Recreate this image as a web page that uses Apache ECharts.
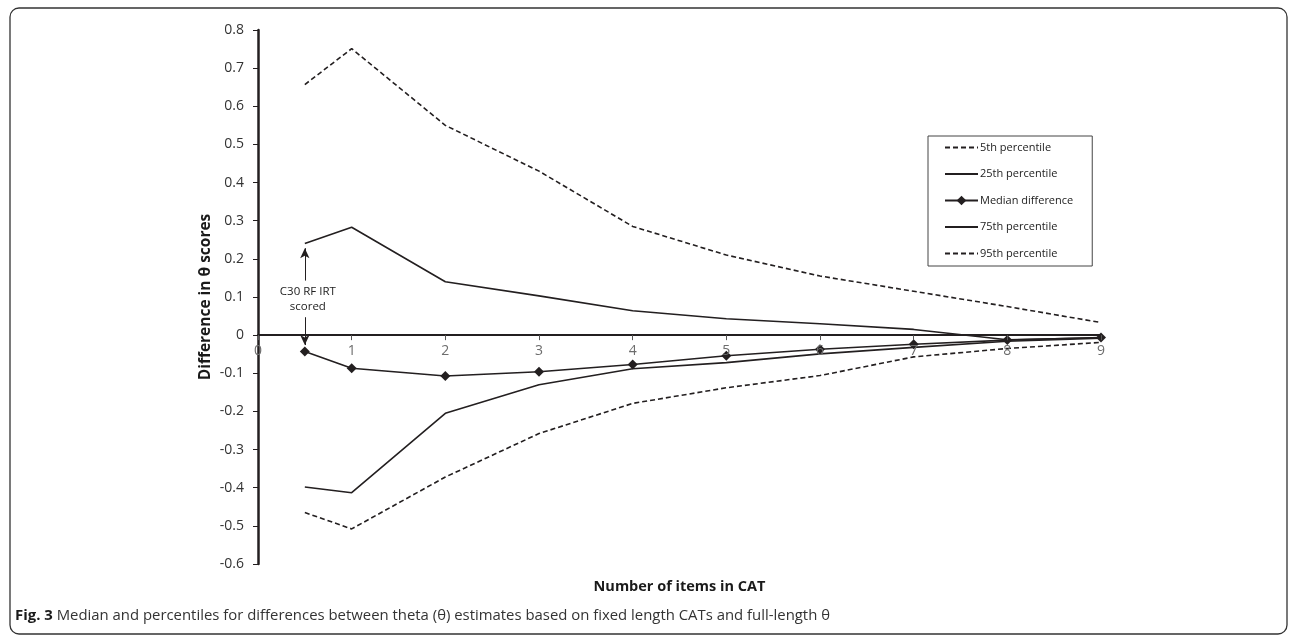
<!DOCTYPE html>
<html>
<head>
<meta charset="utf-8">
<script src="https://cdn.jsdelivr.net/npm/echarts@6/dist/echarts.min.js"></script>
<style>
html,body{margin:0;padding:0;background:#fff;}
#chart{width:1292px;height:637px;}
</style>
</head>
<body>
<div id="chart"></div>
<script>
const xValues = [0.5, 1, 2, 3, 4, 5, 6, 7, 8, 9];
const p5 = [0.657, 0.751, 0.55, 0.43, 0.285, 0.21, 0.155, 0.115, 0.075, 0.033];
const p25 = [0.24, 0.283, 0.14, 0.103, 0.064, 0.043, 0.03, 0.015, -0.012, -0.007];
const median = [-0.043, -0.087, -0.107, -0.096, -0.077, -0.054, -0.037, -0.024, -0.013, -0.006];
const p75 = [-0.398, -0.413, -0.205, -0.13, -0.088, -0.072, -0.049, -0.032, -0.016, -0.008];
const p95 = [-0.465, -0.508, -0.372, -0.258, -0.179, -0.138, -0.106, -0.057, -0.035, -0.019];
const seriesNames = ['5th percentile', '25th percentile', 'Median difference', '75th percentile', '95th percentile'];
const yTicks = { min: -0.6, max: 0.8, step: 0.1 };
const xTicks = { min: 0, max: 9, step: 1 };
const annotationLines = ['C30 RF IRT', 'scored'];

const pair = arr => xValues.map((x, i) => [x, arr[i]]);
const ink = '#231f20';

// layout
const W = 1292, H = 637;
const gridTop = 30, gridBottom = 73;
const plotH = H - gridTop - gridBottom;
const zeroFromBottom = plotH * (0 - yTicks.min) / (yTicks.max - yTicks.min);

const chart = echarts.init(document.getElementById('chart'));
function lineSeries(name, data, dashed, extra) {
  return Object.assign({
    name: name,
    type: 'line',
    data: pair(data),
    symbol: 'none',
    showSymbol: false,
    animation: false,
    lineStyle: { color: ink, width: 1.6, type: dashed ? [5, 3] : 'solid' },
    itemStyle: { color: ink },
    z: 3
  }, extra || {});
}

const option = {
  animation: false,
  backgroundColor: '#fff',
  grid: { left: 258, right: 191, top: gridTop, bottom: gridBottom, containLabel: false, outerBoundsMode: 'none' },
  xAxis: {
    type: 'value',
    position: 'bottom',
    offset: -zeroFromBottom,
    min: xTicks.min, max: xTicks.max, interval: xTicks.step,
    name: 'Number of items in CAT',
    nameLocation: 'middle',
    nameGap: 244,
    nameTextStyle: { fontFamily: 'Open Sans', fontWeight: 'bold', fontSize: 14.5, color: '#1a1a1a' },
    axisLine: { onZero: false, lineStyle: { color: ink, width: 2 } },
    axisTick: { show: true, inside: false, length: 5, lineStyle: { color: '#555', width: 1 } },
    axisLabel: { color: '#6d6d6d', fontFamily: 'Open Sans', fontSize: 14, margin: 9 },
    splitLine: { show: false },
    z: 5
  },
  yAxis: {
    type: 'value',
    min: yTicks.min, max: yTicks.max, interval: yTicks.step,
    name: 'Difference in θ scores',
    nameLocation: 'middle',
    nameGap: 44,
    nameMoveOverlap: false,
    nameRotate: 90,
    nameTextStyle: { fontFamily: 'Open Sans', fontWeight: 'bold', fontSize: 15.5, color: '#1a1a1a' },
    axisLine: { show: true, onZero: false, lineStyle: { color: ink, width: 2.5 } },
    axisTick: { show: true, length: 5, lineStyle: { color: ink, width: 1 } },
    axisLabel: {
      color: '#333', fontFamily: 'Open Sans', fontSize: 14, margin: 14,
      formatter: v => (Math.abs(v) < 1e-9 ? '0' : v.toFixed(1))
    },
    splitLine: { show: false }
  },
  legend: {
    orient: 'vertical',
    left: 928, top: 136,
    padding: [6, 19, 7, 16],
    backgroundColor: '#fff',
    borderColor: '#444', borderWidth: 1,
    itemWidth: 33, itemHeight: 12, itemGap: 15.5,
    textStyle: { fontFamily: 'Open Sans', fontSize: 11, color: '#222', padding: [0, 0, 0, -3] },
    data: seriesNames.map((n, i) => i === 2 ? { name: n } : { name: n, itemStyle: { opacity: 0 } })
  },
  series: [
    lineSeries(seriesNames[0], p5, true, {
      markLine: {
        silent: true, animation: false,
        symbol: ['none', 'arrow'], symbolSize: [7, 10],
        lineStyle: { color: ink, width: 1, type: 'solid' },
        label: { show: false },
        data: [
          [{ coord: [0.5, 0.143] }, { coord: [0.5, 0.228] }],
          [{ coord: [0.5, 0.047] }, { coord: [0.5, -0.026] }]
        ]
      },
      markPoint: {
        silent: true, animation: false,
        symbol: 'circle', symbolSize: 0,
        label: { show: true, fontFamily: 'Open Sans', fontSize: 11.5, color: '#222', lineHeight: 15,
          formatter: annotationLines.join('\n'), offset: [3, 0] },
        data: [{ coord: [0.5, 0.094] }]
      }
    }),
    lineSeries(seriesNames[1], p25, false),
    lineSeries(seriesNames[2], median, false, {
      symbol: 'diamond', showSymbol: true, symbolSize: 10, z: 4
    }),
    lineSeries(seriesNames[3], p75, false),
    lineSeries(seriesNames[4], p95, true)
  ],
  graphic: [
    {
      type: 'rect',
      shape: { x: 10, y: 8, width: 1277, height: 626, r: 9 },
      style: { fill: 'none', stroke: '#333', lineWidth: 1.3 },
      silent: true, z: 0
    },
    {
      type: 'text',
      left: 15, top: 608,
      style: {
        text: '{b|Fig. 3} Median and percentiles for differences between theta (θ) estimates based on fixed length CATs and full-length θ',
        fontFamily: 'Open Sans', fontSize: 14.9, fill: '#333',
        rich: {
          b: { fontFamily: 'Open Sans', fontWeight: 'bold', fontSize: 14.9, fill: '#1a1a1a', color: '#1a1a1a' }
        }
      },
      silent: true
    }
  ]
};
chart.setOption(option);
</script>
</body>
</html>
